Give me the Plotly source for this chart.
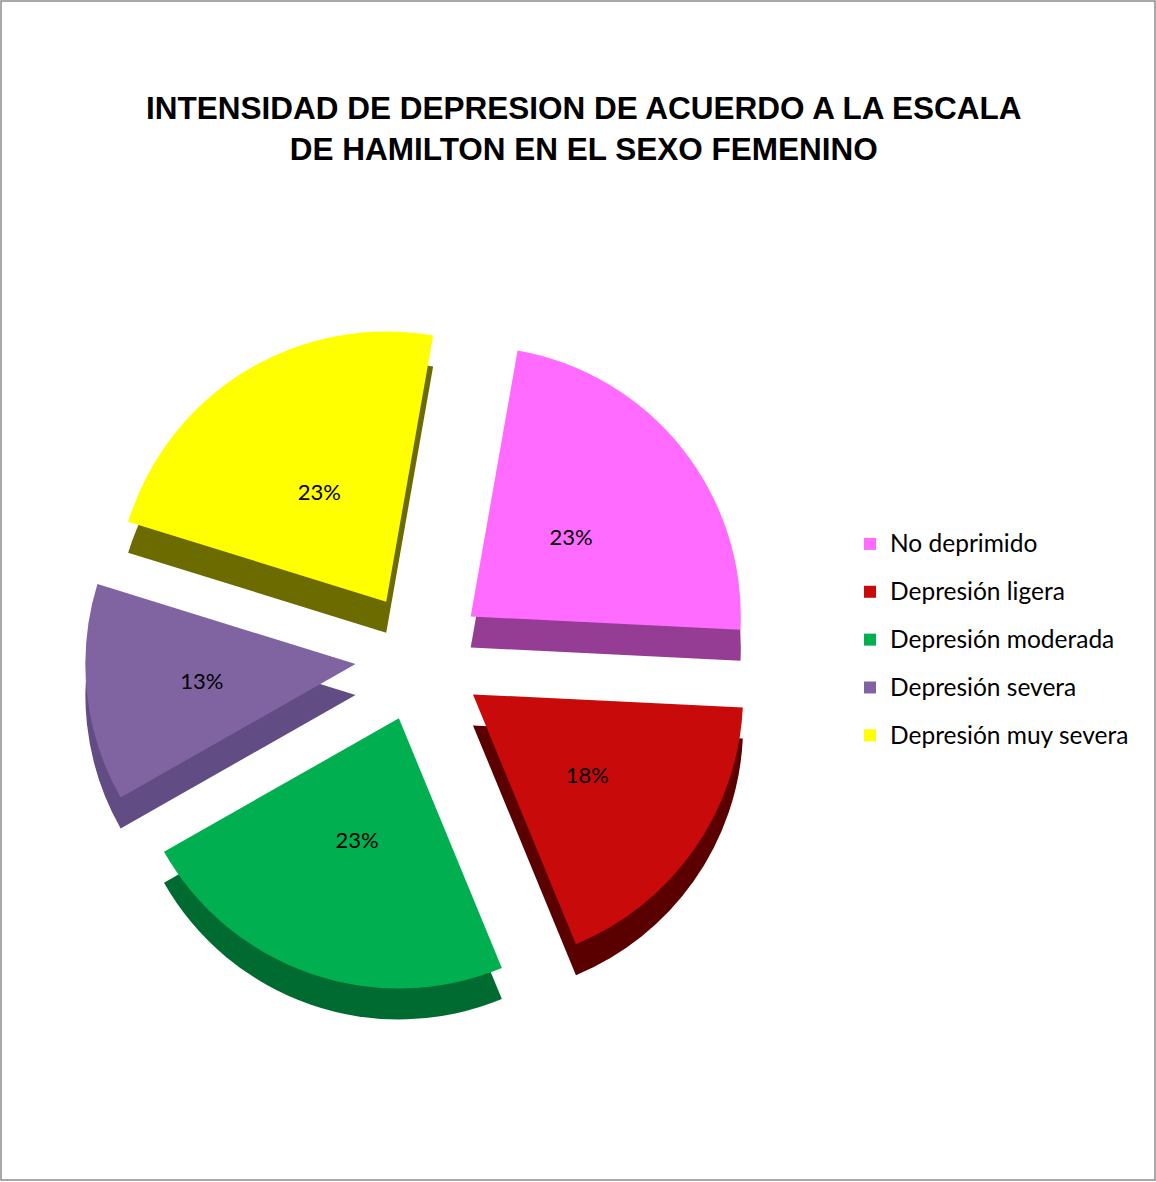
import plotly.graph_objects as go

# Data
labels = ["No deprimido", "Depresión ligera", "Depresión moderada",
          "Depresión severa", "Depresión muy severa"]
values = [23, 18, 23, 13, 23]

top_colors = ["#FF6BFF", "#C80A0A", "#00B050", "#8064A2", "#FFFF00"]
side_colors = ["#953D95", "#5A0000", "#006B30", "#624C84", "#6B6B00"]

W, H = 1156, 1182
pull = [0.24] * len(values)

# pie placement in pixels (square domain)
cx, cy, half = 420, 657, 335
depth = 31

def dom(offset, scale=1.0):
    h = half * scale
    return dict(
        x=[(cx - h) / W, (cx + h) / W],
        y=[1 - (cy + h + offset) / H, 1 - (cy - h + offset) / H],
    )

common = dict(labels=labels, values=values, sort=False, direction="clockwise",
              rotation=10, pull=pull, hoverinfo="skip")

# legend entries: smaller glyphs inside a taller legend line for wider row spacing
legend_labels = ['<span style="font-size:24.5px;baseline-shift:5px">%s</span>' % s
                 for s in labels]

fig = go.Figure()

# darker copy below gives the slices their thickness
fig.add_trace(go.Pie(
    **common, domain=dom(depth),
    marker=dict(colors=side_colors, line=dict(width=0)),
    textinfo="none", showlegend=False,
))

# top faces, also feeding the legend
fig.add_trace(go.Pie(
    **{**common, "labels": legend_labels}, domain=dom(0),
    marker=dict(colors=top_colors, line=dict(width=0)),
    textinfo="none",
))

# transparent, slightly smaller pie carrying the percentage labels nearer the centre
fig.add_trace(go.Pie(
    **common, domain=dom(0, 0.85),
    marker=dict(colors=["rgba(0,0,0,0)"] * len(values), line=dict(width=0)),
    textinfo="percent", textposition="inside", insidetextorientation="horizontal",
    texttemplate="%{percent:.0%}",
    textfont=dict(family="Lato, Noto Sans, sans-serif", size=22, color="#000000"),
    showlegend=False,
))

fig.update_layout(
    width=W, height=H,
    margin=dict(l=0, r=0, t=0, b=0),
    paper_bgcolor="white", plot_bgcolor="white",
    title=dict(
        text="<b>INTENSIDAD DE DEPRESION DE ACUERDO A LA ESCALA<br>DE HAMILTON EN EL SEXO FEMENINO</b>",
        x=0.505, xanchor="center", y=1 - 119 / H, yanchor="top", yref="container",
        font=dict(family="Liberation Sans, Arial, sans-serif", size=31.5, color="#000000"),
    ),
    legend=dict(
        x=850 / W, y=1 - 515 / H, xanchor="left", yanchor="top",
        font=dict(family="Lato, Noto Sans, sans-serif", size=34.5, color="#000000"),
        tracegroupgap=0, bgcolor="rgba(0,0,0,0)",
    ),
    shapes=[dict(
        type="rect", xref="paper", yref="paper",
        x0=1 / W, x1=1 - 1 / W, y0=2 / H, y1=1 - 1 / H,
        line=dict(color="#8C8C8C", width=1.5), fillcolor="rgba(0,0,0,0)",
        layer="above",
    )],
)

fig.write_html("out.html")
